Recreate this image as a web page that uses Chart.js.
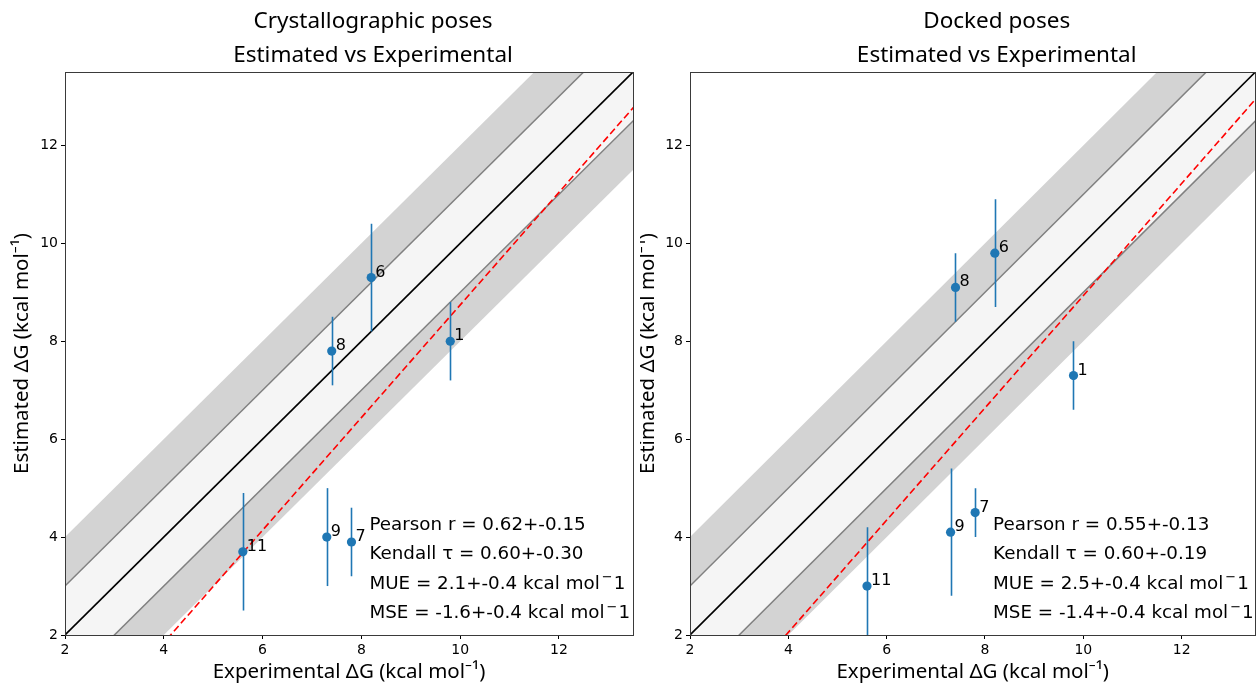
<!DOCTYPE html>
<html>
<head>
<meta charset="utf-8">
<script src="https://cdn.jsdelivr.net/npm/chart.js@4.4.1/dist/chart.umd.min.js"></script>
<style>
  html, body { margin: 0; padding: 0; background: #ffffff; }
  body { width: 1260px; height: 685px; position: relative; overflow: hidden; }
  canvas { position: absolute; top: 0; }
  #c1 { left: 0px; }
  #c2 { left: 640px; }
</style>
</head>
<body>
<canvas id="c1" width="640" height="685"></canvas>
<canvas id="c2" width="620" height="685"></canvas>
<script>
// ---------------- data ----------------
const ligandLabels = ['1', '6', '8', '11', '9', '7'];
const experimentalDG = [9.8, 8.2, 7.4, 5.6, 7.3, 7.8];
const crystEstimated = [8.0, 9.3, 7.8, 3.7, 4.0, 3.9];
const crystError = [0.8, 1.1, 0.7, 1.2, 1.0, 0.7];
const dockEstimated = [7.3, 9.8, 9.1, 3.0, 4.1, 4.5];
const dockError = [0.7, 1.1, 0.7, 1.2, 1.3, 0.5];
const tickValues = [2, 4, 6, 8, 10, 12];
const axisRange = [2, 13.5];
const lineExtent = [0, 16];
const innerBand = 1;
const outerBand = 2;
const crystFit = [1.15, -2.76];   // slope, intercept
const dockFit = [1.146, -2.53];
const crystTitle = ['Crystallographic poses', 'Estimated vs Experimental'];
const dockTitle = ['Docked poses', 'Estimated vs Experimental'];
// each stats line: [main text, superscript, trailing text]
const crystStats = [
  ['Pearson r = 0.62+-0.15', '', ''],
  ['Kendall \u03c4 = 0.60+-0.30', '', ''],
  ['MUE = 2.1+-0.4 kcal mol', '\u2212', '1'],
  ['MSE = -1.6+-0.4 kcal mol', '\u2212', '1']
];
const dockStats = [
  ['Pearson r = 0.55+-0.13', '', ''],
  ['Kendall \u03c4 = 0.60+-0.19', '', ''],
  ['MUE = 2.5+-0.4 kcal mol', '\u2212', '1'],
  ['MSE = -1.4+-0.4 kcal mol', '\u2212', '1']
];
const xAxisTitle = 'Experimental \u0394G (kcal mol\u207b\u00b9)';
const yAxisTitle = 'Estimated \u0394G (kcal mol\u207b\u00b9)';

// ---------------- styles ----------------
const BLUE = '#1f77b4';
const LABEL_FONT = '16px "DejaVu Sans"';
const STATS_FONT = '18.3px "DejaVu Sans"';
const SUP_FONT = '13px "DejaVu Sans"';
const TITLE_FONT = '22.5px "Noto Sans"';
const AXIS_FONT = '20.5px "Noto Sans"';

function linePts(offset, slope) {
  const s = slope === undefined ? 1 : slope;
  return lineExtent.map(x => ({ x: x, y: s * x + offset }));
}

const decorPlugin = {
  id: 'decor',
  beforeDatasetDraw(chart, args, opts) {
    if (args.index !== 6) return;
    const ctx = chart.ctx, a = chart.chartArea;
    const xs = chart.scales.x, ys = chart.scales.y;
    ctx.save();
    ctx.beginPath();
    ctx.rect(a.left, a.top, a.right - a.left, a.bottom - a.top);
    ctx.clip();
    ctx.strokeStyle = BLUE;
    ctx.lineWidth = 1.6;
    opts.values.forEach((v, i) => {
      const px = Math.round(xs.getPixelForValue(experimentalDG[i])) + 0.5;
      ctx.beginPath();
      ctx.moveTo(px, ys.getPixelForValue(v - opts.errors[i]));
      ctx.lineTo(px, ys.getPixelForValue(v + opts.errors[i]));
      ctx.stroke();
    });
    ctx.restore();
  },
  afterDatasetsDraw(chart, args, opts) {
    const ctx = chart.ctx, a = chart.chartArea;
    const xs = chart.scales.x, ys = chart.scales.y;
    ctx.save();
    // frame
    ctx.strokeStyle = '#3a3a3a';
    ctx.lineWidth = 1;
    ctx.strokeRect(Math.round(a.left) + 0.5, Math.round(a.top) + 0.5, Math.round(a.right - a.left), Math.round(a.bottom - a.top));
    // point labels
    ctx.fillStyle = '#000';
    ctx.font = LABEL_FONT;
    ctx.textAlign = 'left';
    ctx.textBaseline = 'alphabetic';
    ligandLabels.forEach((lab, i) => {
      ctx.fillText(lab, xs.getPixelForValue(experimentalDG[i]) + 4, ys.getPixelForValue(opts.values[i]) - 1);
    });
    // stats
    ctx.textBaseline = 'middle';
    const sx = a.left + 0.536 * (a.right - a.left);
    opts.stats.forEach((parts, i) => {
      const sy = a.top + 0.805 * (a.bottom - a.top) + i * 29.4;
      ctx.font = STATS_FONT;
      ctx.fillText(parts[0], sx, sy);
      let px = sx + ctx.measureText(parts[0]).width + 2;
      if (parts[1]) {
        ctx.font = SUP_FONT;
        ctx.fillText(parts[1], px, sy - 6);
        px += ctx.measureText(parts[1]).width + 1;
      }
      if (parts[2]) {
        ctx.font = STATS_FONT;
        ctx.fillText(parts[2], px, sy);
      }
    });
    // titles
    const cx = (a.left + a.right) / 2;
    ctx.font = TITLE_FONT;
    ctx.textAlign = 'center';
    ctx.fillText(opts.title[0], cx + 24, 22);
    ctx.fillText(opts.title[1], cx + 24, 56);
    // axis titles
    ctx.font = AXIS_FONT;
    ctx.fillText(xAxisTitle, cx, 672);
    ctx.translate(opts.yTitleX, (a.top + a.bottom) / 2);
    ctx.rotate(-Math.PI / 2);
    ctx.fillText(yAxisTitle, 0, 0);
    ctx.restore();
  }
};

function makeChart(id, values, errors, fit, title, stats, padLeft, padRight, yTitleX) {
  const pts = experimentalDG.map((x, i) => ({ x: x, y: values[i] }));
  const axisCommon = {
    type: 'linear',
    min: axisRange[0],
    max: axisRange[1],
    afterBuildTicks: (ax) => { ax.ticks = tickValues.map(v => ({ value: v })); },
    grid: { drawOnChartArea: false, drawTicks: true, tickLength: 4, color: '#000', lineWidth: 1 },
    border: { display: false },
    ticks: { color: '#000', font: { family: 'DejaVu Sans', size: 14 }, padding: 3, autoSkip: false, maxRotation: 0 }
  };
  return new Chart(document.getElementById(id), {
    type: 'line',
    data: {
      datasets: [
        { data: linePts(outerBand), fill: '+1', backgroundColor: '#d3d3d3', borderWidth: 0, pointRadius: 0, order: 10 },
        { data: linePts(-outerBand), fill: false, borderWidth: 0, pointRadius: 0, order: 9 },
        { data: linePts(innerBand), fill: '+1', backgroundColor: '#f5f5f5', borderColor: '#808080', borderWidth: 1.5, pointRadius: 0, order: 8 },
        { data: linePts(-innerBand), fill: false, borderColor: '#808080', borderWidth: 1.5, pointRadius: 0, order: 7 },
        { data: linePts(0), fill: false, borderColor: '#000000', borderWidth: 1.6, pointRadius: 0, order: 6 },
        { data: linePts(fit[1], fit[0]), fill: false, borderColor: '#ff0000', borderWidth: 1.6, borderDash: [7, 3.5], pointRadius: 0, order: 5 },
        { data: pts, showLine: false, pointRadius: 4.6, pointBackgroundColor: BLUE, pointBorderWidth: 0, order: 1 }
      ]
    },
    options: {
      responsive: false,
      animation: false,
      events: [],
      layout: { padding: { left: padLeft, right: padRight, top: 72, bottom: 0 } },
      plugins: {
        legend: { display: false },
        tooltip: { enabled: false },
        decor: { values: values, errors: errors, title: title, stats: stats, yTitleX: yTitleX }
      },
      scales: {
        x: Object.assign({}, axisCommon, { afterFit: (ax) => { ax.height = 50; } }),
        y: Object.assign({}, axisCommon, { afterFit: (ax) => { ax.width = 40; } })
      }
    },
    plugins: [decorPlugin]
  });
}

makeChart('c1', crystEstimated, crystError, crystFit, crystTitle, crystStats, 25, 7, 22);
makeChart('c2', dockEstimated, dockError, dockFit, dockTitle, dockStats, 10, 2, 8);
</script>
</body>
</html>
